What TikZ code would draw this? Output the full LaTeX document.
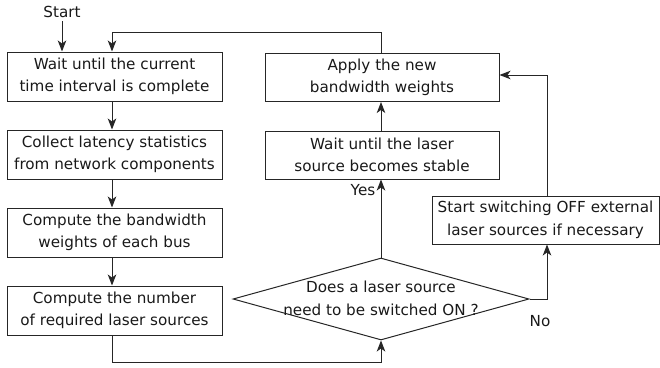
\documentclass[tikz,border=0pt]{standalone}
\usepackage{fontspec}
\setmainfont{DejaVu Sans}
\usetikzlibrary{shapes.geometric,arrows.meta}

\begin{document}
\begin{tikzpicture}[x=1pt,y=-1pt,
  every node/.style={font=\fontsize{15.2}{22.5}\selectfont, text=black!90},
  stepbox/.style={draw=black!85, line width=1pt, align=center, inner sep=0pt},
  leftbox/.style={stepbox, minimum width=215pt, minimum height=49pt},
  rightbox/.style={stepbox, minimum width=234pt, minimum height=48pt},
  decision/.style={draw=black!85, line width=1pt, diamond, inner sep=0pt,
                   minimum width=296pt, minimum height=82pt},
  flow/.style={draw=black!85, line width=1pt,
               -{Stealth[length=11pt,width=8.5pt,inset=3pt]}}
]
\useasboundingbox (0,0) rectangle (660,367);

% left column
\node[leftbox] (wait)    at (114.5,76.5)  {Wait until the current\\time interval is complete};
\node[leftbox] (collect) at (114.5,154.5) {Collect latency statistics\\from network components};
\node[leftbox] (weights) at (114.5,232.5) {Compute the bandwidth\\weights of each bus};
\node[leftbox] (number)  at (114.5,310.5) {Compute the number\\of required laser sources};

% right column
\node[rightbox] (apply)  at (382,77.5) {Apply the new\\bandwidth weights};
\node[rightbox] (stable) at (382,155)  {Wait until the laser\\source becomes stable};
\node[stepbox, minimum width=227pt, minimum height=48pt] (off) at (545.5,220)
  {Start switching OFF external\\laser sources if necessary};

% decision
\node[decision] (ask) at (381,299) {};
\node[align=center] (asktext) at (381,298.5) {Does a laser source\\need to be switched ON ?};

% labels and helper points
\node (start) at (62,12) {Start};
\node (yes) at (363,190) {Yes};
\node (no)  at (540,321) {No};
\coordinate (colL) at (112,0);
\coordinate (colS) at (62,0);
\coordinate (colR) at (381,0);
\coordinate (colO) at (547,0);
\coordinate (loopR) at (381,32);
\coordinate (loopL) at (112,32);
\coordinate (botL) at (112,362);
\coordinate (botR) at (381,362);
\coordinate (noCorner) at (547,299);
\coordinate (offTop) at (547,75);

% connectors
\draw[flow] (start.south -| colS) -- (wait.north -| colS);
\draw[flow] (wait.south -| colL) -- (collect.north -| colL);
\draw[flow] (collect.south -| colL) -- (weights.north -| colL);
\draw[flow] (weights.south -| colL) -- (number.north -| colL);
\draw[flow] (number.south -| colL) -- (botL) -- (botR) -- (ask.south);
\draw[flow] (ask.north) -- (stable.south -| colR);
\draw[flow] (stable.north -| colR) -- (apply.south -| colR);
\draw[flow] (apply.north -| colR) -- (loopR) -- (loopL) -- (wait.north -| colL);
\draw[flow] (ask.east) -- (noCorner) -- (off.south -| colO);
\draw[flow] (off.north -| colO) -- (offTop) -- (offTop -| apply.east);
\end{tikzpicture}
\end{document}
